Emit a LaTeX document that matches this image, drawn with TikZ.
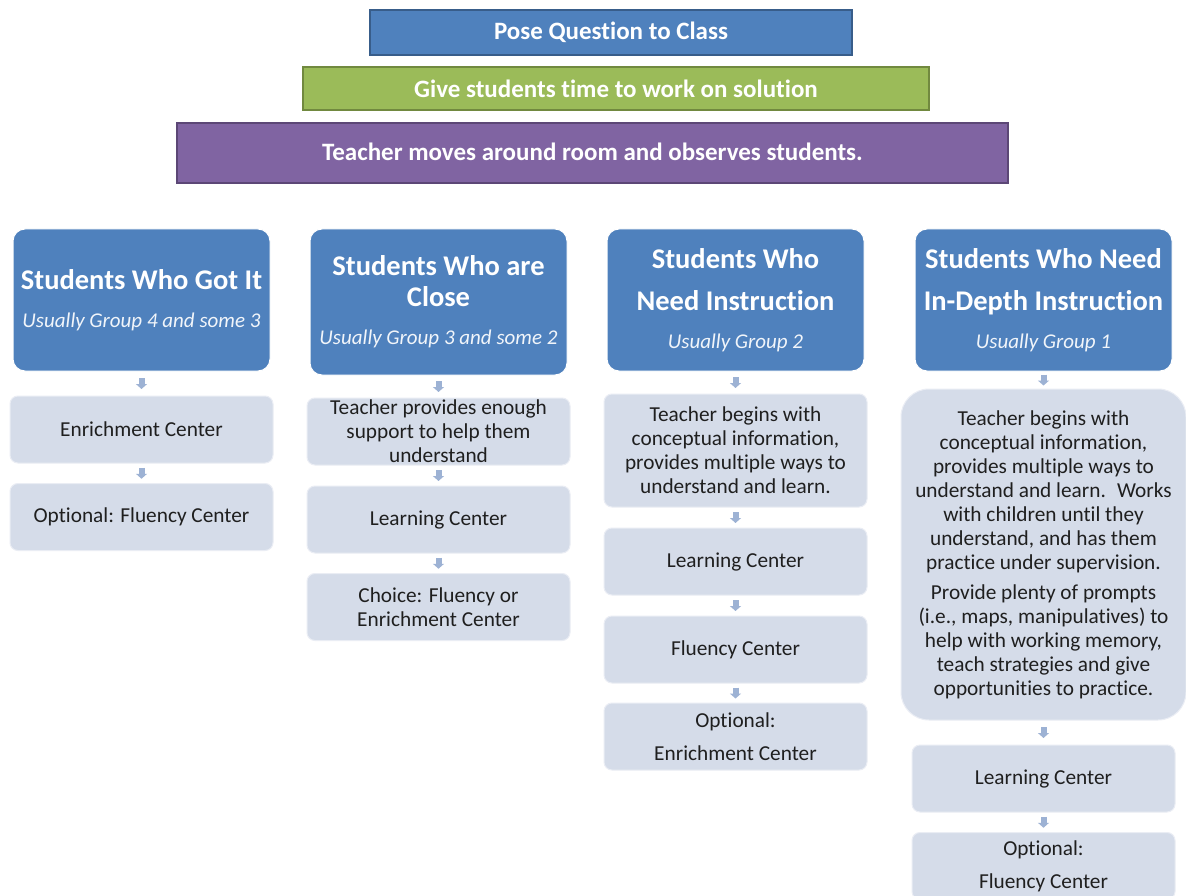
\documentclass[tikz,border=0pt]{standalone}
\usepackage{fontspec}
\setmainfont{Carlito}[Ligatures=NoCommon]
\usetikzlibrary{arrows.meta,calc}

\definecolor{barblue}{HTML}{4F81BD}
\definecolor{barblueline}{HTML}{385D8A}
\definecolor{bargreen}{HTML}{9BBB59}
\definecolor{bargreenline}{HTML}{71893F}
\definecolor{barpurple}{HTML}{8064A2}
\definecolor{barpurpleline}{HTML}{5C4776}
\definecolor{ctrfill}{HTML}{D5DCE9}
\definecolor{ctrarrow}{HTML}{9DB2D4}

\newcommand{\gsub}[1]{{\fontsize{21}{25}\selectfont\mdseries\itshape\color{white!92!barblue}#1}}

\tikzset{gbar/.style={rectangle,fill=#1,draw=#1line,line width=1.5pt,text=white,
           font=\fontsize{25}{30}\selectfont\bfseries,inner sep=0pt},
         ghead/.style={rectangle,rounded corners=12pt,fill=barblue,draw=white,line width=1pt,
           minimum width=257pt,minimum height=142pt,text=white,align=center,
           font=\fontsize{28.5}{31}\selectfont\bfseries,inner sep=0pt},
         gctr/.style={rectangle,rounded corners=8pt,fill=ctrfill,draw=white!50!ctrfill,line width=1pt,
           minimum width=263pt,minimum height=67pt,align=center,text=black!88,
           font=\fontsize{21.3}{24}\selectfont,inner sep=0pt},
         garr/.style={draw=ctrarrow,line width=6pt,-{Triangle[width=11pt,length=5pt]}}}

\begin{document}
\begin{tikzpicture}[x=1pt,y=-1pt]
    \path[use as bounding box,fill=white] (0,0) rectangle (1186,896);
    \clip (0,0) rectangle (1186,896);
    % steps for the whole class
    \node[gbar=barblue,minimum width=482pt,minimum height=45pt] (pose) at (611,32.5) {Pose Question to Class};
    \node[gbar=bargreen,minimum width=626pt,minimum height=43pt] (time) at (616,88.5) {Give students time to work on solution};
    \node[gbar=barpurple,minimum width=831pt,minimum height=60pt] (walk) at (592.5,153) {\raisebox{3pt}{Teacher moves around room and observes students.}};
    % the four groups
    \node[ghead] (h1) at (141.5,300) {Students Who Got It\\[7pt]\gsub{Usually Group 4 and some 3}};
    \node[ghead,minimum height=146pt] (h2) at (438.5,302) {Students Who are\\Close\\[7pt]\gsub{Usually Group 3 and some 2}};
    \node[ghead] (h3) at (735.5,300) {Students Who\\[11pt]Need Instruction\\[7pt]\gsub{Usually Group 2}};
    \node[ghead] (h4) at (1043.5,300) {Students Who Need\\[11pt]In-Depth Instruction\\[7pt]\gsub{Usually Group 1}};
    % centers under each group
    \node[gctr] (c1a) at (141.5,429.5) {Enrichment Center};
    \node[gctr] (c1b) at (141.5,517) {Optional: Fluency Center};
    \node[gctr,inner ysep=-3pt] (c2a) at (438.5,431.5) {Teacher provides enough\\support to help them\\understand};
    \node[gctr] (c2b) at (438.5,519.5) {Learning Center};
    \node[gctr] (c2c) at (438.5,607) {Choice: Fluency or\\Enrichment Center};
    \node[gctr,minimum height=113pt] (c3a) at (735.5,450.5) {Teacher begins with\\conceptual information,\\provides multiple ways to\\understand and learn.};
    \node[gctr] (c3b) at (735.5,561.5) {Learning Center};
    \node[gctr] (c3c) at (735.5,649.5) {Fluency Center};
    \node[gctr] (c3d) at (735.5,736.5) {Optional:\\[9pt]Enrichment Center};
    \node[gctr,minimum width=285pt,minimum height=331pt,rounded corners=28pt] (c4a) at (1043.5,554.5)
      {Teacher begins with\\conceptual information,\\provides multiple ways to\\understand and learn.~ Works\\with children until they\\understand, and has them\\practice under supervision.\\[6pt]Provide plenty of prompts\\(i.e., maps, manipulatives) to\\help with working memory,\\teach strategies and give\\opportunities to practice.};
    \node[gctr] (c4b) at (1043.5,778.5) {Learning Center};
    \node[gctr] (c4c) at (1043.5,866) {Optional:\\[9pt]Fluency Center};
    % short arrows, centred in each gap
    \foreach \a/\b in {h1/c1a,c1a/c1b,h2/c2a,c2a/c2b,c2b/c2c,h3/c3a,c3a/c3b,c3b/c3c,c3c/c3d,h4/c4a,c4a/c4b,c4b/c4c}
      \draw[garr] ($(\a.south)!.5!(\b.north)+(0,-5.5)$) -- ($(\a.south)!.5!(\b.north)+(0,5.5)$);
  \end{tikzpicture}
\end{document}
